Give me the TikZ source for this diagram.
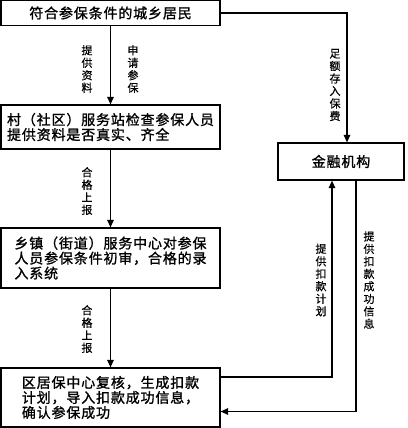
\documentclass[tikz,border=0pt]{standalone}
\usepackage{fontspec}
\setmainfont{Noto Sans CJK SC}[FakeBold=0.6]
\newfontfamily\boxfont[LetterSpace=6, FakeBold=1.2]{Noto Sans CJK SC}
\usetikzlibrary{arrows.meta}

\begin{document}
\begin{tikzpicture}[x=1pt, y=-1pt,
    box/.style={draw, line width=1.2pt, inner sep=0pt, align=left,
        font=\boxfont\fontsize{14}{15}\selectfont},
    vlabel/.style={inner sep=0pt, align=center,
        font=\fontsize{11}{12.5}\selectfont},
    arr/.style={line width=1.2pt, -{Triangle[length=7.5pt, width=6.5pt]}}]
    \useasboundingbox (0,0) rectangle (407,428);

    % Draw nodes
    \node[box, minimum width=219pt, minimum height=25pt] (s1) at (110.5,13) {符合参保条件的城乡居民};
    \node[box, minimum width=219pt, minimum height=44pt] (s2) at (110.5,127) {村（社区）服务站检查参保人员\\提供资料是否真实、齐全};
    \node[box, minimum width=219pt, minimum height=60pt] (s3) at (110.5,258) {乡镇（街道）服务中心对参保\\人员参保条件初审，合格的录\\入系统};
    \node[box, minimum width=219pt, minimum height=59pt] (s4) at (110.5,397.5) {区居保中心复核，生成扣款\\计划，导入扣款成功信息，\\确认参保成功};
    \node[box, minimum width=126pt, minimum height=37pt, align=center] (fin) at (341,161.5) {金融机构};

    % Draw connections
    \draw[arr] (s1) -- (s2);
    \draw[arr] (s2) -- (s3);
    \draw[arr] (s3) -- (s4);
    \draw[arr] (s1.east) -| ([xshift=6pt]fin.north);
    \draw[arr] ([yshift=20.5pt]s4.east) -| ([xshift=-9pt]fin.south);
    \draw[arr] ([xshift=15pt]fin.south) |- ([yshift=-14pt]s4.east);

    % Labels
    \node[vlabel] (l1) at (87,69) {提\\供\\资\\料};
    \node[vlabel] (l2) at (133,69) {申\\请\\参\\保};
    \node[vlabel] (l3) at (87,191) {合\\格\\上\\报};
    \node[vlabel] (l4) at (87,329) {合\\格\\上\\报};
    \node[vlabel] (l5) at (335,85) {足\\额\\存\\入\\保\\费};
    \node[vlabel] (l6) at (321,280) {提\\供\\扣\\款\\计\\划};
    \node[vlabel] (l7) at (369,280) {提\\供\\扣\\款\\成\\功\\信\\息};
\end{tikzpicture}
\end{document}
